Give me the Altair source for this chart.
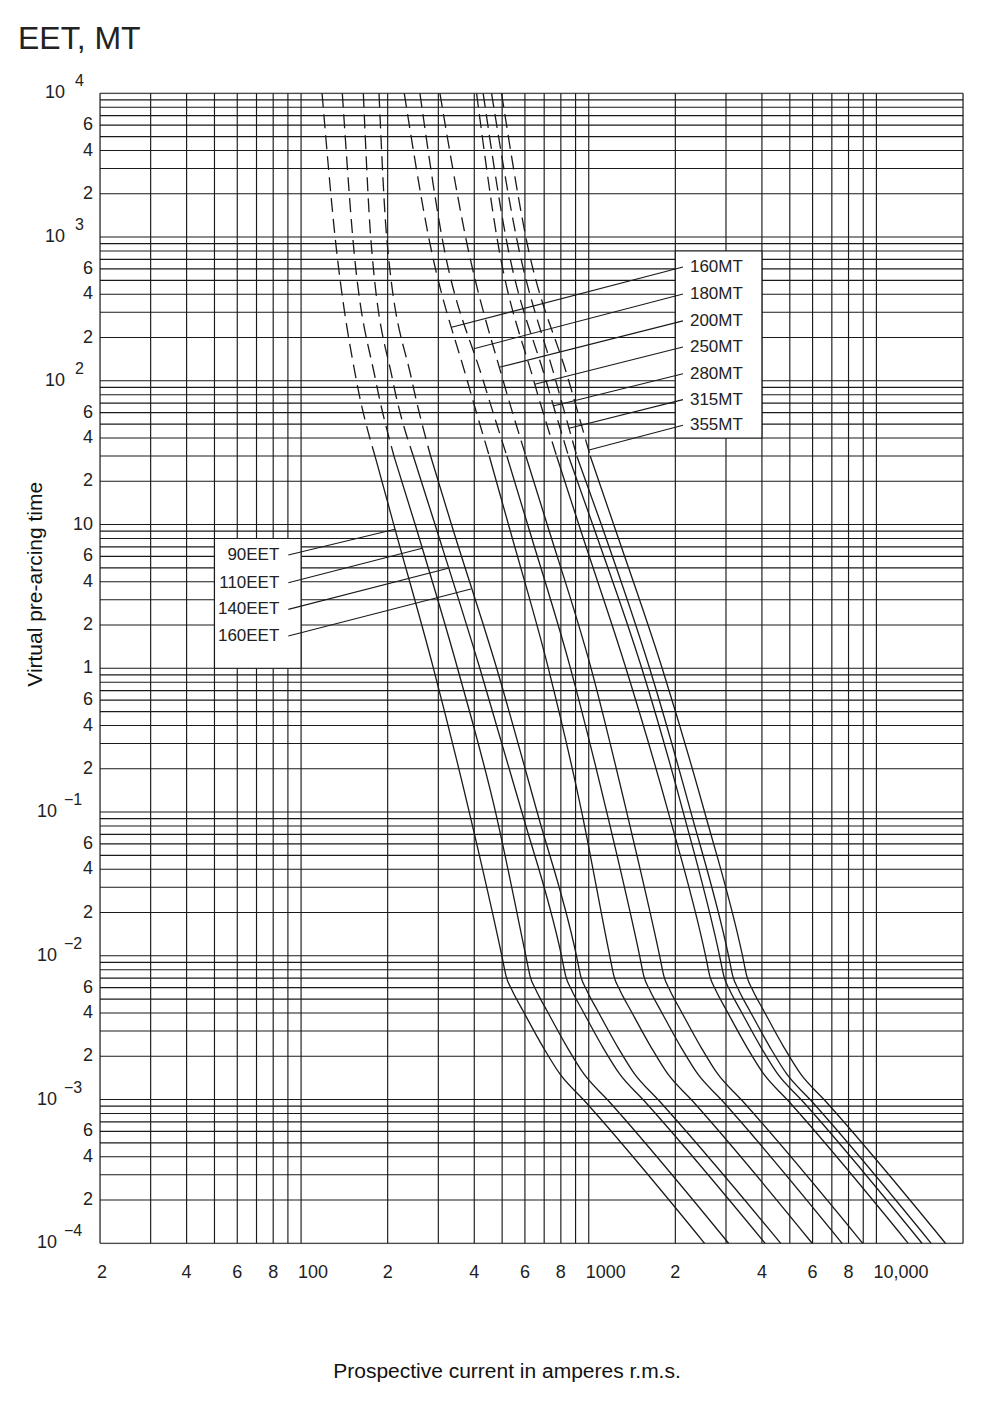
import altair as alt
import pandas as pd

# ---------------- data ----------------
# time levels (s) at which every curve was read
times = [10000, 1000, 100, 30, 10, 1, 0.1, 0.01, 0.0072, 0.0058, 0.0041, 0.0023, 0.0015, 0.001, 0.0001]
dash_above = 30  # curves are drawn dashed for times above this

curve_names = ["90EET", "110EET", "140EET", "160EET",
               "160MT", "180MT", "200MT", "250MT", "280MT", "315MT", "355MT"]

# prospective current (A) of each curve at the time levels above
i_90eet = [118.3, 131.3, 155.8, 180.7, 210.0, 288.5, 384.3, 498.8, 516.2, 540.3, 592.8, 695.6, 795.0, 957.6, 2527]
i_110eet = [139.1, 151.2, 181.8, 210.3, 249.2, 349.9, 474.3, 604.4, 625.5, 654.7, 718.3, 842.9, 963.5, 1160, 3063]
i_140eet = [164.6, 174.6, 208.4, 245.5, 292.2, 418.3, 585.4, 804.0, 832.1, 870.9, 955.6, 1121, 1282, 1544, 4101]
i_160eet = [186.6, 198.4, 242.9, 282.0, 333.3, 478.6, 661.6, 906.5, 938.1, 981.9, 1077, 1264, 1445, 1741, 4650]
i_160mt = [228.4, 277.6, 378.3, 451.0, 525.9, 723.9, 945.6, 1183, 1224, 1281, 1406, 1650, 1886, 2271, 5980]
i_180mt = [258.9, 308.8, 429.9, 519.2, 613.2, 864.1, 1155, 1503, 1555, 1628, 1786, 2096, 2396, 2886, 7600]
i_200mt = [303.9, 373.2, 504.2, 604.4, 717.1, 1019, 1355, 1764, 1826, 1911, 2097, 2460, 2812, 3387, 8962]
i_250mt = [407.5, 479.3, 644.2, 773.1, 923.4, 1347, 1890, 2548, 2637, 2760, 3028, 3553, 4062, 4892, 12900]
i_280mt = [429.5, 515.0, 710.7, 850.2, 1032, 1529, 2130, 2850, 2950, 3087, 3387, 3975, 4543, 5472, 14400]
i_315mt = [459.4, 560.2, 768.2, 908.6, 1106, 1628, 2265, 3063, 3170, 3318, 3640, 4272, 4883, 5881, 15500]
i_355mt = [497.6, 604.4, 852.3, 1012, 1221, 1800, 2528, 3425, 3545, 3710, 4071, 4777, 5460, 6576, 17380]
curve_currents = [i_90eet, i_110eet, i_140eet, i_160eet, i_160mt, i_180mt,
                  i_200mt, i_250mt, i_280mt, i_315mt, i_355mt]

# leader lines: point on the curve -> label anchor
eet_labels = ["90EET", "110EET", "140EET", "160EET"]
eet_curve_i = [212.1, 263.8, 324.7, 389.4]
eet_curve_t = [9.27, 6.84, 4.96, 3.56]
eet_label_i = [90.3, 90.3, 90.3, 90.3]
eet_label_t = [6.14, 3.94, 2.57, 1.68]

mt_labels = ["160MT", "180MT", "200MT", "250MT", "280MT", "315MT", "355MT"]
mt_curve_i = [333.6, 398.8, 488.1, 649.4, 751.6, 854.3, 1002]
mt_curve_t = [235.6, 167.2, 124.1, 94.6, 66.8, 46.7, 33.0]
mt_label_i = [2126, 2126, 2126, 2126, 2126, 2126, 2126]
mt_label_t = [619, 402, 261, 172, 112, 74, 49]

# white label boxes (current range, time range)
box_i1 = [50, 2000]
box_i2 = [100, 4000]
box_t1 = [1, 40]
box_t2 = [8, 800]

# grid and tick values / labels
x_grid = [m * 10 ** e for e in range(1, 4) for m in range(1, 10) if m * 10 ** e >= 20] + [10000, 20000]
y_grid = [m * 10.0 ** e for e in range(-4, 4) for m in range(1, 10)] + [10000]
x_mid_ticks = [40, 60, 80, 200, 400, 600, 800, 2000, 4000, 6000, 8000]
x_mid_labels = ["4", "6", "8", "2", "4", "6", "8", "2", "4", "6", "8"]
x_start_ticks = [20, 100, 1000, 10000]
x_start_labels = ["2", "100", "1000", "10,000"]
y_ticks = [m * 10.0 ** e for e in range(-4, 4) for m in (2, 4, 6)] + [1, 10]
y_labels = [str(m) for e in range(-4, 4) for m in (2, 4, 6)] + ["1", "10"]
pos_exponents = [4, 3, 2]
neg_exponents = [-1, -2, -3, -4]

chart_title = "EET, MT"
x_title = "Prospective current in amperes r.m.s."
y_title = "Virtual pre-arcing time"

# ---------------- tables ----------------
rows = []
for name, cur in zip(curve_names, curve_currents):
    for k, (t, i) in enumerate(zip(times, cur)):
        rows.append({"curve": name, "current": i, "time": t, "seq": k})
curves = pd.DataFrame(rows)
dashed = curves[curves["time"] >= dash_above]
solid = curves[curves["time"] <= dash_above]

leaders = pd.DataFrame({
    "name": eet_labels + mt_labels,
    "ic": eet_curve_i + mt_curve_i,
    "tc": eet_curve_t + mt_curve_t,
    "il": eet_label_i + mt_label_i,
    "tl": eet_label_t + mt_label_t,
    "grp": ["EET"] * len(eet_labels) + ["MT"] * len(mt_labels),
})
boxes = pd.DataFrame({"i1": box_i1, "i2": box_i2, "t1": box_t1, "t2": box_t2})
pos_exp = pd.DataFrame({"v": [10.0 ** e for e in pos_exponents], "base": ["10"] * 3,
                        "exp": [str(e) for e in pos_exponents]})
neg_exp = pd.DataFrame({"v": [10.0 ** e for e in neg_exponents], "base": ["10"] * 4,
                        "exp": ["\u2212" + str(-e) for e in neg_exponents]})
xmid = pd.DataFrame({"v": x_mid_ticks, "lab": x_mid_labels})
xstart = pd.DataFrame({"v": x_start_ticks, "lab": x_start_labels})
ytick = pd.DataFrame({"v": y_ticks, "lab": y_labels})
titles = pd.DataFrame({"chart": [chart_title], "xt": [x_title], "yt": [y_title]})

# ---------------- styling ----------------
FONT = "Liberation Sans"
INK = "#1a1a1a"
TXT = "#222"
PLOT_W, PLOT_H = 863, 1150
xs = alt.Scale(type="log", domain=[20, 20000], nice=False)
ys = alt.Scale(type="log", domain=[0.0001, 10000], nice=False)


def X(field):
    return alt.X(field, scale=xs, axis=None)


def Y(field):
    return alt.Y(field, scale=ys, axis=None)


xgrid = alt.Chart(pd.DataFrame({"v": x_grid})).mark_rule(color=INK, strokeWidth=1.15).encode(x=X("v:Q"))
ygrid = alt.Chart(pd.DataFrame({"v": y_grid})).mark_rule(color=INK, strokeWidth=1.15).encode(y=Y("v:Q"))

box_layer = alt.Chart(boxes).mark_rect(fill="white", stroke=INK, strokeWidth=1.15).encode(
    x=X("i1:Q"), x2="i2:Q", y=Y("t1:Q"), y2="t2:Q")

enc = dict(x=X("current:Q"), y=Y("time:Q"), detail="curve:N", order="seq:Q")
dash_layer = alt.Chart(dashed).mark_line(color=INK, strokeWidth=1.3, strokeDash=[14, 7],
                                         interpolate="monotone").encode(**enc)
solid_layer = alt.Chart(solid).mark_line(color=INK, strokeWidth=1.3,
                                         interpolate="monotone").encode(**enc)

leader_layer = alt.Chart(leaders).mark_rule(color=INK, strokeWidth=1.1).encode(
    x=X("ic:Q"), y=Y("tc:Q"), x2="il:Q", y2="tl:Q")
mt_text = alt.Chart(leaders).transform_filter("datum.grp == 'MT'").mark_text(
    align="left", baseline="middle", dx=7, fontSize=17, font=FONT, color=TXT).encode(
    x=X("il:Q"), y=Y("tl:Q"), text="name:N")
eet_text = alt.Chart(leaders).transform_filter("datum.grp == 'EET'").mark_text(
    align="right", baseline="middle", dx=-9, fontSize=17, font=FONT, color=TXT).encode(
    x=X("il:Q"), y=Y("tl:Q"), text="name:N")

# x tick labels
xmid_text = alt.Chart(xmid).mark_text(align="center", baseline="middle", fontSize=18,
                                      font=FONT, color=TXT).encode(
    x=X("v:Q"), y=alt.value(PLOT_H + 30), text="lab:N")
xstart_text = alt.Chart(xstart).mark_text(align="left", baseline="middle", fontSize=18, dx=-3,
                                          font=FONT, color=TXT).encode(
    x=X("v:Q"), y=alt.value(PLOT_H + 30), text="lab:N")

# y tick labels
ytick_text = alt.Chart(ytick).mark_text(align="right", baseline="middle", fontSize=18,
                                        font=FONT, color=TXT).encode(
    x=alt.value(-7), y=Y("v:Q"), text="lab:N")

# y decade labels written as 10 with a raised exponent
pos_base = alt.Chart(pos_exp).mark_text(align="right", baseline="middle", fontSize=18,
                                        font=FONT, color=TXT).encode(
    x=alt.value(-35), y=Y("v:Q"), text="base:N")
pos_sup = alt.Chart(pos_exp).mark_text(align="left", baseline="middle", fontSize=16, dy=-12,
                                       font=FONT, color=TXT).encode(
    x=alt.value(-25), y=Y("v:Q"), text="exp:N")
neg_base = alt.Chart(neg_exp).mark_text(align="right", baseline="middle", fontSize=18,
                                        font=FONT, color=TXT).encode(
    x=alt.value(-43), y=Y("v:Q"), text="base:N")
neg_sup = alt.Chart(neg_exp).mark_text(align="left", baseline="middle", fontSize=16, dy=-12,
                                       font=FONT, color=TXT).encode(
    x=alt.value(-36), y=Y("v:Q"), text="exp:N")

# titles
title_text = alt.Chart(titles).mark_text(align="left", baseline="alphabetic", fontSize=32,
                                         font=FONT, color="#222").encode(
    x=alt.value(-82), y=alt.value(-44), text="chart:N")
xtitle_text = alt.Chart(titles).mark_text(align="center", baseline="middle", fontSize=21,
                                          font=FONT, color="#111").encode(
    x=alt.value(407), y=alt.value(PLOT_H + 129), text="xt:N")
ytitle_text = alt.Chart(titles).mark_text(align="center", baseline="middle", fontSize=21, angle=270,
                                          font=FONT, color="#111").encode(
    x=alt.value(-64), y=alt.value(491), text="yt:N")

chart = alt.layer(
    xgrid, ygrid, box_layer, dash_layer, solid_layer, leader_layer,
    mt_text, eet_text, xmid_text, xstart_text, ytick_text,
    pos_base, pos_sup, neg_base, neg_sup, title_text, xtitle_text, ytitle_text,
).properties(
    width=PLOT_W, height=PLOT_H,
    autosize=alt.AutoSizeParams(type="none"),
    padding={"left": 92, "top": 85.3, "right": 17, "bottom": 150},
).configure_view(stroke=None).configure(background="white")

chart.save("out.html", embed_options={"renderer": "svg", "actions": False})
